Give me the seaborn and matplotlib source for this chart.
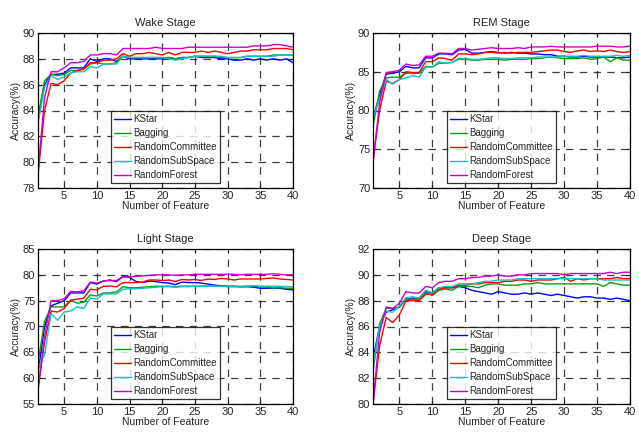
import numpy as np
import pandas as pd
import matplotlib
matplotlib.use("Agg")
import matplotlib.pyplot as plt
import seaborn as sns

x = list(range(1, 41))
methods = ["KStar", "Bagging", "RandomCommittee", "RandomSubSpace", "RandomForest"]
colors = ["#0000ff", "#109a10", "#ff0000", "#10c4c4", "#cc00cc"]

wake_kstar = [83.3,86.0,86.8,86.8,86.9,87.3,87.3,87.3,88.0,87.8,88.0,88.0,87.8,88.2,88.0,88.0,88.0,88.0,88.0,88.0,88.1,88.0,88.1,88.1,88.2,88.1,88.1,88.1,88.0,88.0,87.9,87.9,88.0,87.9,88.0,87.9,88.0,87.9,88.0,87.7]
wake_bagging = [83.5,86.3,86.8,86.7,86.8,87.1,87.1,87.2,87.6,87.7,87.6,87.6,87.7,88.2,88.1,88.1,88.1,88.1,88.1,88.1,88.1,88.0,88.1,88.1,88.2,88.2,88.2,88.2,88.1,88.1,88.1,88.1,88.2,88.2,88.2,88.2,88.3,88.3,88.3,88.3]
wake_rc = [79.0,84.0,86.1,86.0,86.3,86.9,87.1,87.2,87.7,87.7,87.9,87.9,88.0,88.4,88.2,88.4,88.4,88.5,88.4,88.3,88.5,88.3,88.5,88.5,88.5,88.6,88.5,88.6,88.5,88.4,88.5,88.6,88.6,88.7,88.7,88.7,88.8,88.8,88.8,88.7]
wake_rss = [83.0,85.8,86.7,86.4,86.6,86.9,87.0,87.0,87.4,87.3,87.6,87.6,87.6,88.2,88.1,88.1,88.1,88.1,88.1,88.1,88.0,87.9,88.0,88.1,88.2,88.2,88.2,88.2,88.2,88.1,88.1,88.1,88.2,88.2,88.2,88.2,88.2,88.3,88.3,88.3]
wake_rf = [79.2,85.0,87.0,87.0,87.3,87.7,87.7,87.8,88.3,88.3,88.4,88.4,88.3,88.8,88.8,88.8,88.8,88.8,88.9,88.8,88.8,88.8,88.8,88.9,88.9,88.9,88.9,88.9,88.9,88.9,88.9,88.9,88.9,89.0,89.0,89.0,89.1,89.1,89.0,88.9]

rem_kstar = [79.0,82.0,84.7,84.8,85.0,85.7,85.5,85.5,86.8,86.8,87.3,87.3,87.2,87.8,87.9,87.4,87.4,87.5,87.6,87.5,87.4,87.5,87.4,87.4,87.3,87.3,87.2,87.2,87.0,87.0,86.9,86.9,87.0,86.9,86.9,86.9,86.9,86.8,86.8,86.9]
rem_bagging = [78.0,82.5,84.2,84.3,84.3,84.8,84.8,84.8,85.7,85.6,86.1,86.1,86.2,86.6,86.6,86.5,86.5,86.6,86.6,86.6,86.5,86.6,86.6,86.6,86.7,86.7,86.8,86.9,86.8,86.7,86.7,86.7,86.8,86.6,86.7,86.9,86.3,86.8,86.5,86.5]
rem_rc = [73.5,80.0,83.8,83.5,84.0,85.0,84.9,84.9,86.3,86.3,86.8,86.7,86.5,87.3,87.3,87.2,87.3,87.5,87.5,87.4,87.5,87.4,87.5,87.5,87.5,87.6,87.7,87.8,87.8,87.6,87.5,87.7,87.8,87.6,87.7,87.6,87.8,87.6,87.5,87.6]
rem_rss = [79.0,81.5,84.0,83.4,84.0,84.2,84.5,84.3,85.6,85.6,86.3,86.1,86.2,86.7,86.7,86.6,86.6,86.7,86.8,86.8,86.7,86.7,86.8,86.8,86.8,86.9,86.9,86.9,86.9,87.0,87.0,87.0,87.1,87.0,87.0,87.0,87.0,87.1,87.0,87.1]
rem_rf = [73.2,81.0,84.9,85.0,85.2,86.0,85.8,85.9,87.0,87.0,87.4,87.4,87.3,88.0,88.0,87.8,87.9,88.0,88.1,88.0,88.0,88.0,88.1,88.0,88.2,88.2,88.2,88.3,88.2,88.2,88.2,88.2,88.2,88.2,88.3,88.3,88.3,88.2,88.2,88.3]

light_kstar = [61.0,70.0,74.0,74.5,75.0,76.5,76.5,76.5,78.5,78.2,78.8,79.0,78.7,79.7,79.5,78.7,78.5,78.8,78.7,78.5,78.4,78.1,78.6,78.5,78.5,78.4,78.2,78.0,77.9,77.8,77.8,77.7,77.7,77.6,77.4,77.4,77.4,77.4,77.2,77.1]
light_bagging = [63.0,71.0,73.8,73.8,73.8,75.1,74.5,74.7,76.1,75.9,76.5,76.5,76.7,77.7,77.5,77.5,77.6,77.7,77.8,77.8,77.8,77.7,77.8,77.8,77.8,77.8,77.8,77.8,77.8,77.7,77.7,77.7,77.8,77.8,77.7,77.6,77.4,77.5,77.4,77.4]
light_rc = [58.0,67.0,73.0,72.8,73.5,75.1,75.3,75.5,77.2,77.1,77.8,77.8,77.7,78.5,78.5,78.5,78.6,79.0,79.0,78.9,79.0,78.7,79.1,79.0,79.1,78.9,79.2,79.1,79.3,79.2,79.0,79.2,79.2,79.2,79.2,79.3,79.4,79.2,79.1,79.0]
light_rss = [62.0,64.5,72.5,71.2,72.8,73.0,73.8,73.5,75.5,75.3,76.3,76.3,76.3,77.2,77.3,77.3,77.4,77.5,77.6,77.7,77.7,77.6,77.7,77.7,77.8,77.8,77.8,77.8,77.8,77.8,77.8,77.8,77.8,77.9,77.8,77.8,77.8,77.8,77.7,77.7]
light_rf = [57.5,68.0,75.0,75.0,75.4,76.8,76.7,76.9,78.6,78.4,78.8,78.9,78.9,79.6,79.6,79.7,79.8,79.9,80.0,80.0,80.0,79.9,80.0,80.0,80.1,80.1,80.1,80.1,80.1,80.1,80.1,80.0,80.1,80.1,80.1,80.1,80.2,80.1,80.0,80.0]

deep_kstar = [83.5,86.0,87.1,87.3,87.5,88.2,88.2,88.2,88.7,88.6,89.0,89.0,89.0,89.1,89.0,88.8,88.7,88.6,88.5,88.7,88.6,88.5,88.5,88.6,88.5,88.6,88.5,88.4,88.5,88.4,88.3,88.2,88.3,88.3,88.2,88.2,88.1,88.2,88.1,88.0]
deep_bagging = [82.5,86.2,87.4,87.4,87.5,88.1,88.1,88.1,88.6,88.4,88.8,88.9,88.8,89.1,89.1,89.1,89.0,89.2,89.3,89.3,89.2,89.2,89.2,89.3,89.3,89.4,89.3,89.3,89.3,89.3,89.3,89.3,89.3,89.3,89.3,89.1,89.4,89.3,89.2,89.2]
deep_rc = [80.0,84.5,86.7,86.3,86.9,88.0,88.0,88.0,88.5,88.5,88.9,89.0,89.0,89.2,89.2,89.3,89.3,89.4,89.4,89.4,89.5,89.5,89.6,89.6,89.5,89.6,89.6,89.6,89.7,89.8,89.5,89.7,89.6,89.7,89.7,89.7,89.7,89.8,89.7,89.7]
deep_rss = [83.0,86.0,87.2,87.1,87.6,88.2,88.3,88.2,88.8,88.6,89.0,89.1,89.1,89.3,89.3,89.3,89.4,89.5,89.5,89.6,89.6,89.6,89.7,89.7,89.7,89.7,89.7,89.7,89.7,89.7,89.7,89.7,89.7,89.7,89.7,89.6,89.6,89.6,89.6,89.6]
deep_rf = [80.0,85.5,87.5,87.4,87.8,88.7,88.6,88.6,89.1,89.0,89.4,89.5,89.5,89.7,89.7,89.8,89.8,89.9,89.9,90.0,89.9,89.9,90.0,90.0,90.1,90.1,90.1,90.1,90.1,90.0,90.1,90.1,90.1,90.1,90.1,90.1,90.2,90.1,90.2,90.2]

titles = ["Wake Stage", "REM Stage", "Light Stage", "Deep Stage"]
ylims = [(78, 90), (70, 90), (55, 85), (80, 92)]
ysteps = [2, 5, 5, 2]
panels = [
    [wake_kstar, wake_bagging, wake_rc, wake_rss, wake_rf],
    [rem_kstar, rem_bagging, rem_rc, rem_rss, rem_rf],
    [light_kstar, light_bagging, light_rc, light_rss, light_rf],
    [deep_kstar, deep_bagging, deep_rc, deep_rss, deep_rf],
]

sns.set_style("white")
plt.rcParams['font.family'] = ['Liberation Sans', 'DejaVu Sans']

fig = plt.figure(figsize=(6.39, 4.33), dpi=100)
positions = [
    (38/639, 1-188/433, 255/639, 155/433),
    (373/639, 1-188/433, 257/639, 155/433),
    (38/639, 1-404/433, 255/639, 155/433),
    (373/639, 1-404/433, 257/639, 155/433),
]

for i in range(4):
    ax = fig.add_axes(positions[i])
    rows = []
    for m, vals in zip(methods, panels[i]):
        for xi, v in zip(x, vals):
            rows.append({"x": xi, "acc": v, "method": m})
    df = pd.DataFrame(rows)
    sns.lineplot(data=df, x="x", y="acc", hue="method", hue_order=methods,
                 palette=colors, linewidth=1.0, ax=ax, legend=True)
    ax.set_xlim(1, 40)
    ax.set_ylim(*ylims[i])
    ax.set_xticks(range(5, 41, 5))
    ax.set_yticks(np.arange(ylims[i][0], ylims[i][1] + 0.1, ysteps[i]))
    ax.grid(True, color="black", linestyle=(0, (6, 5)), linewidth=0.9, alpha=0.75)
    ax.tick_params(direction="in", length=3, labelsize=8, pad=2,
                   bottom=True, left=True, top=True, right=True)
    for s in ax.spines.values():
        s.set_color("black")
        s.set_linewidth(0.9)
    ax.set_title(titles[i], fontsize=8, pad=5)
    ax.set_xlabel("Number of Feature", fontsize=7.5, labelpad=0)
    ax.set_ylabel("Accuracy(%)", fontsize=7.5, labelpad=1)
    leg = ax.legend(loc="lower center", bbox_to_anchor=(0.5, 0.03), fontsize=7,
                    frameon=True, fancybox=False, edgecolor="black",
                    handlelength=1.8, handletextpad=0.2, borderpad=0.35,
                    labelspacing=0.4, borderaxespad=0)
    leg.get_frame().set_linewidth(0.9)

fig.savefig("out.png", dpi=100)
